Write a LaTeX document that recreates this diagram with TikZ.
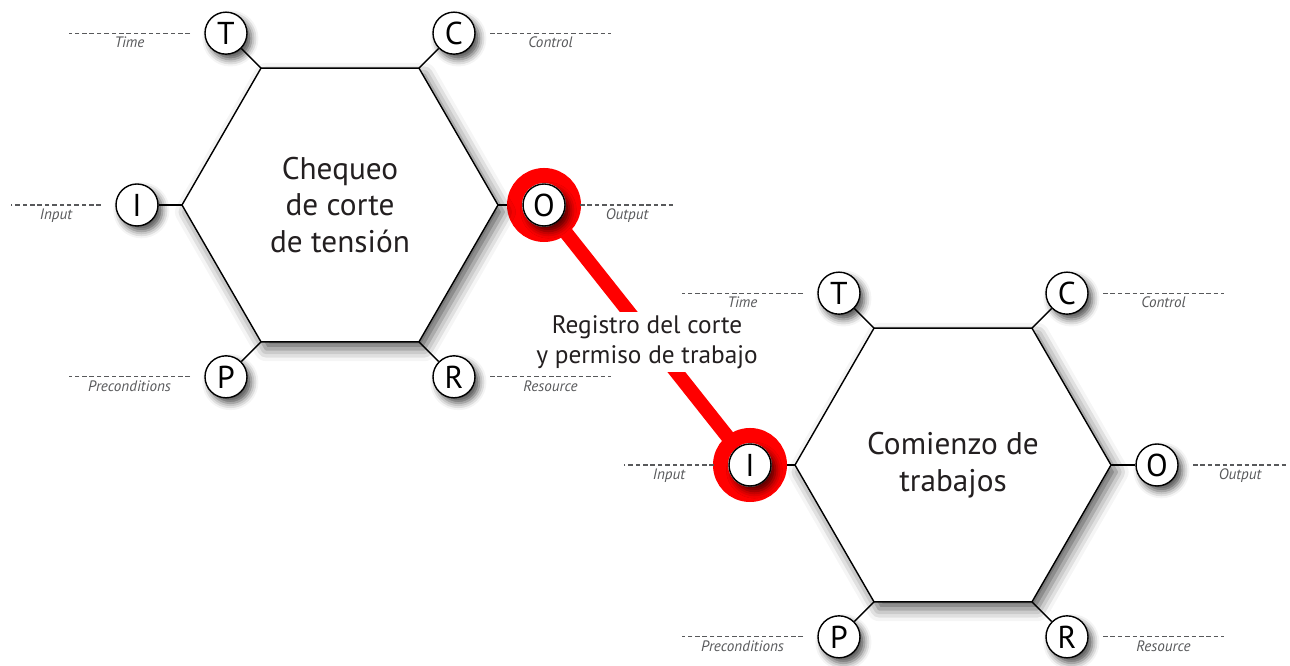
\documentclass[tikz,border=0pt]{standalone}
\usepackage{fontspec}
\setmainfont{PT Sans}
\usetikzlibrary{positioning, calc, backgrounds, shapes.geometric, shadows.blur}
\definecolor{ink}{HTML}{231F20}
\definecolor{guidegray}{HTML}{58595B}
\definecolor{flowred}{HTML}{FF0000}
\tikzset{
  hexnode/.style   = {regular polygon, regular polygon sides=6, minimum size=6.32cm,
                      inner sep=0pt, outer sep=0pt, draw=black, line width=0.8pt, fill=white,
                      align=center, text=ink, font=\fontsize{17.8}{21}\selectfont,
                      blur shadow={shadow xshift=3pt, shadow yshift=-4pt,
                                   shadow blur radius=7pt, shadow opacity=65}},
  portnode/.style  = {circle, draw=black, line width=0.8pt, fill=white, minimum size=0.84cm,
                      inner sep=0pt, text=black, font=\fontsize{18}{18}\selectfont,
                      blur shadow={shadow xshift=2.5pt, shadow yshift=-3pt,
                                   shadow blur radius=4pt, shadow opacity=70}},
  link/.style      = {draw=black, line width=0.8pt},
  guide/.style     = {draw=guidegray, line width=0.6pt, dash pattern=on 2.6pt off 1.6pt},
  guidelabel/.style= {font=\fontsize{8.6}{10}\selectfont\itshape, text=guidegray, inner sep=1pt},
  redlink/.style   = {draw=flowred, line width=0.28cm},
  redring/.style   = {draw=flowred, line width=0.3cm},
  note/.style      = {fill=white, align=center, text=ink, inner sep=2pt,
                      font=\fontsize{14.4}{17}\selectfont},
}
\begin{document}
\begin{tikzpicture}
  \useasboundingbox (0,0) rectangle (25.8,-13.32);

  % ---- the two process hexagons ----
  \node[hexnode] (h1) at (6.8,-4.1)   {Chequeo\\de corte\\de tensión};
  \node[hexnode] (h2) at (19.06,-9.3) {Comienzo de\\trabajos};

  % ---- ports, guides and labels ----
  \foreach \h in {h1,h2} {
    \foreach \p/\v/\d/\r/\s/\len/\lab in {
        T/120/135/0.99/-1/2.42/Time,
        C/60/45/0.99/1/2.42/Control,
        I/180/180/0.9/-1/1.8/Input,
        O/0/0/0.92/1/1.88/Output,
        P/240/225/0.99/-1/2.42/Preconditions,
        R/300/315/0.99/1/2.42/Resource} {
      \node[portnode] (\h\p) at ($(\h.\v)+(\d:\r)$) {\p};
      \draw[guide] ($(\h\p)+(\s*0.72,0)$) -- ++(\s*\len,0)
        node[midway, below=1pt, guidelabel] {\lab};
    }
  }

  \begin{scope}[on background layer]
    % ---- vertex to port links ----
    \foreach \h in {h1,h2}
      \foreach \p/\v in {T/120, C/60, I/180, O/0, P/240, R/300}
        \draw[link] (\h.\v) -- (\h\p);

    % ---- output of the first feeds the input of the second ----
    \draw[redlink] (h1O) -- (h2I);
    \draw[redring] (h1O) circle (0.59);
    \draw[redring] (h2I) circle (0.59);
  \end{scope}

  \node[note, yshift=-0.14cm] (reg) at ($(h1O)!0.5!(h2I)$)
    {Registro del corte\\y permiso de trabajo};
\end{tikzpicture}
\end{document}
